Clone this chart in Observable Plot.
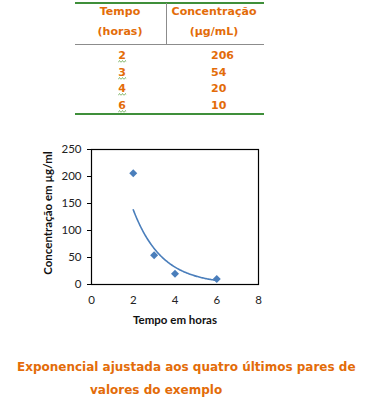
<!DOCTYPE html>
<html><head><meta charset="utf-8">
<script src="https://cdn.jsdelivr.net/npm/d3@7"></script>
<script src="https://cdn.jsdelivr.net/npm/@observablehq/plot@0.6"></script>
<style>
body{margin:0;background:#fff;}
#wrap{position:relative;width:371px;height:400px;overflow:hidden;background:#fff;}
.t{position:absolute;font-family:"DejaVu Sans",Verdana,sans-serif;font-weight:bold;font-size:11px;color:#E36C09;white-space:nowrap;line-height:14px;z-index:2;}
.c{transform:translateX(-50%);}
.sq{display:inline-block;padding-bottom:1px;background-image:url("data:image/svg+xml,%3Csvg xmlns='http://www.w3.org/2000/svg' width='3' height='3'%3E%3Cpath d='M0 2.5 L1.5 0.5 L3 2.5' fill='none' stroke='%236aa84f' stroke-width='0.8'/%3E%3C/svg%3E");background-repeat:repeat-x;background-position:0 100%;background-size:3px 3px;line-height:12px;}
.ln{position:absolute;z-index:1;}
#plot{position:absolute;left:0;top:130px;}
</style></head><body><div id="wrap"></div>
<script>
// data
const tempo = [2, 3, 4, 6];
const conc = [206, 54, 20, 10];
const xTicks = [0, 2, 4, 6, 8];
const yTicks = [0, 50, 100, 150, 200, 250];
const headTempo = ["Tempo", "(horas)"];
const headConc = ["Concentração", "(µg/mL)"];
const xLabel = "Tempo em horas";
const yLabel = "Concentração em µg/ml";
const caption = ["Exponencial ajustada aos quatro últimos pares de", "valores do exemplo"];

const wrap = document.getElementById("wrap");
function el(cls, css, txt){const d=document.createElement("div");d.className=cls;Object.assign(d.style,css);if(txt!=null)d.textContent=txt;wrap.appendChild(d);return d;}

// table lines
el("ln",{left:"75px",top:"2px",width:"189px",height:"2px",background:"#3f8f3a"});
el("ln",{left:"166px",top:"3px",width:"1px",height:"41px",background:"#8c8c8c"});
el("ln",{left:"75px",top:"44px",width:"189px",height:"1px",background:"#8c8c8c"});
el("ln",{left:"75px",top:"113px",width:"189px",height:"2px",background:"#3f8f3a"});
// headers
headTempo.forEach((h,i)=>el("t c",{left:"120px",top:(5+i*20)+"px"},h));
headConc.forEach((h,i)=>el("t c",{left:"214px",top:(5+i*20)+"px"},h));
// rows
const rowY=[49,66,82,99];
tempo.forEach((v,i)=>{
  const d=el("t c",{left:"122px",top:rowY[i]+"px"});
  const s=document.createElement("span");s.className="sq";s.textContent=v;d.appendChild(s);
  el("t",{left:"211px",top:rowY[i]+"px"},conc[i]);
});
// caption
el("t",{left:"17px",top:"360px",fontSize:"12px"},caption[0]);
el("t",{left:"90px",top:"383px",fontSize:"12px"},caption[1]);

// exponential least-squares fit from the data
const ly = conc.map(Math.log);
const mx = d3.mean(tempo), my = d3.mean(ly);
const b = d3.sum(tempo,(x,i)=>(x-mx)*(ly[i]-my))/d3.sum(tempo,x=>(x-mx)**2);
const a = my - b*mx;
const [x0,x1] = d3.extent(tempo);
const curve = d3.range(0,101).map(i=>{const x=x0+(x1-x0)*i/100;return {x,y:Math.exp(a+b*x)};});
const pts = tempo.map((t,i)=>({t,c:conc[i]}));

const blue="#4a7ebb";
const chart = Plot.plot({
  width:371, height:200,
  marginLeft:91, marginRight:113, marginTop:19, marginBottom:46,
  style:{fontFamily:"Lato, 'Open Sans', sans-serif", fontSize:"11.5px", color:"#222", background:"transparent", overflow:"visible"},
  x:{domain:[0,8]},
  y:{domain:[0,250]},
  marks:[
    Plot.frame({stroke:"#000", strokeWidth:1.2}),
    Plot.axisX({ticks:xTicks, tickSize:0, tickPadding:11, label:null, tickFormat:d=>d}),
    Plot.axisY({ticks:yTicks, tickSize:4, tickPadding:6, label:null, stroke:"#000", tickFormat:d=>d}),
    Plot.line(curve,{x:"x",y:"y",stroke:blue,strokeWidth:1.6}),
    Plot.dot(pts,{x:"t",y:"c",symbol:"diamond2",fill:blue,r:3.6,stroke:"none"}),
    Plot.text([xLabel],{frameAnchor:"bottom",dy:39,fontWeight:"bold",fontSize:11.5,fill:"#111"}),
    Plot.text([yLabel],{frameAnchor:"left",textAnchor:"middle",dx:-43,dy:-4,rotate:-90,fontWeight:"bold",fontSize:11.5,fill:"#111"})
  ]
});
chart.id="plot";
wrap.appendChild(chart);
</script></body></html>
